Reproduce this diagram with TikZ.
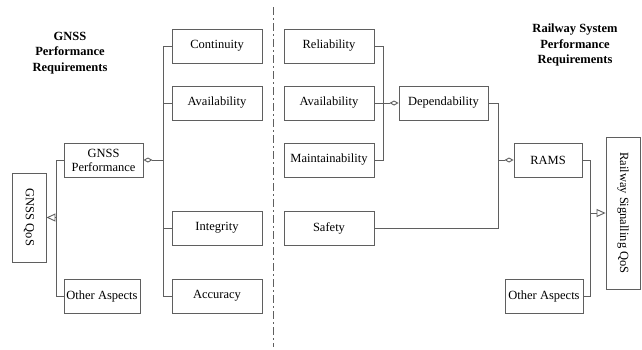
\documentclass[tikz,border=0pt]{standalone}
\usepackage{fontspec}
\setmainfont{Liberation Serif}
\usetikzlibrary{arrows.meta}
\definecolor{linegray}{RGB}{95,95,95}
\tikzset{
  box/.style={draw=linegray, line width=0.9pt, minimum height=34pt, inner sep=1pt,
    align=center, font=\fontsize{12.5}{15}\selectfont},
  vbox/.style={box, rotate=-90, minimum height=34pt},
  wire/.style={draw=linegray, line width=0.9pt},
  title/.style={align=center, font=\fontsize{12.5}{15.5}\selectfont\bfseries},
  agg/.style={-{Diamond[open, length=9pt, width=5pt]}},
  gen/.style={-{Triangle[open, length=9pt, width=8pt]}}
}
\begin{document}
\begin{tikzpicture}[x=1pt, y=-1pt]
\useasboundingbox (0,0) rectangle (642,349);
% titles
\node[title] (gnsstitle) at (70,53) {GNSS\\Performance\\Requirements};
\node[title] (railtitle) at (575,45) {Railway System\\Performance\\Requirements};
% divider
\coordinate (divtop) at (273,7);
\coordinate (divbot) at (273,347);
\draw[linegray, line width=0.8pt, dash pattern=on 8pt off 3pt on 2pt off 3pt] (divtop) -- (divbot);
% GNSS requirements
\foreach \name/\txt/\y in {
      cont/Continuity/46, availl/Availability/103, integ/Integrity/228, accu/Accuracy/296
  } {
    \node[box, minimum width=90pt] (\name) at (217,\y) {\txt};
  }
\node[box, minimum width=79pt, inner sep=0pt] (perf) at (103.5,160) {GNSS\\[-1pt]Performance};
\node[box, minimum width=76pt] (otherl) at (102,296) {Other Aspects};
\node[vbox, minimum width=89pt] (gqos) at (29,217.5) {GNSS QoS};
% railway requirements
\foreach \name/\txt/\y in {
      relia/Reliability/46, availr/Availability/103, maint/Maintainability/160, safe/Safety/228
  } {
    \node[box, minimum width=90pt] (\name) at (329,\y) {\txt};
  }
\node[box, minimum width=89pt] (depend) at (443.5,103) {Dependability};
\node[box, minimum width=68pt] (rams) at (548,160) {RAMS};
\node[box, minimum width=78pt] (otherr) at (544,296) {Other Aspects};
\node[vbox, minimum width=152pt] (rqos) at (623,213) {Railway Signalling QoS};
% left connectors
\coordinate (lbus) at (163,0);
\coordinate (qbus) at (56,0);
\draw[wire] (cont.west) -| (lbus |- accu.west) -- (accu.west);
\foreach \n in {availl,integ} \draw[wire] (\n.west) -- (\n.west -| lbus);
\draw[wire, agg] (perf.east -| lbus) -- (perf.east);
\draw[wire] (perf.west) -| (qbus |- otherl.west) -- (otherl.west);
\draw[wire, gen] (gqos.north -| qbus) -- (gqos.north);
% right connectors
\coordinate (dbus) at (383,0);
\coordinate (sbus) at (498,0);
\coordinate (rbus) at (590,0);
\draw[wire] (relia.east) -| (dbus |- maint.east) -- (maint.east);
\draw[wire, agg] (availr.east) -- (depend.west);
\draw[wire] (depend.east) -| (sbus |- safe.east) -- (safe.east);
\draw[wire, agg] (rams.west -| sbus) -- (rams.west);
\draw[wire] (rams.east) -| (rbus |- otherr.east) -- (otherr.east);
\draw[wire, gen] (rqos.south -| rbus) -- (rqos.south);
\end{tikzpicture}
\end{document}
